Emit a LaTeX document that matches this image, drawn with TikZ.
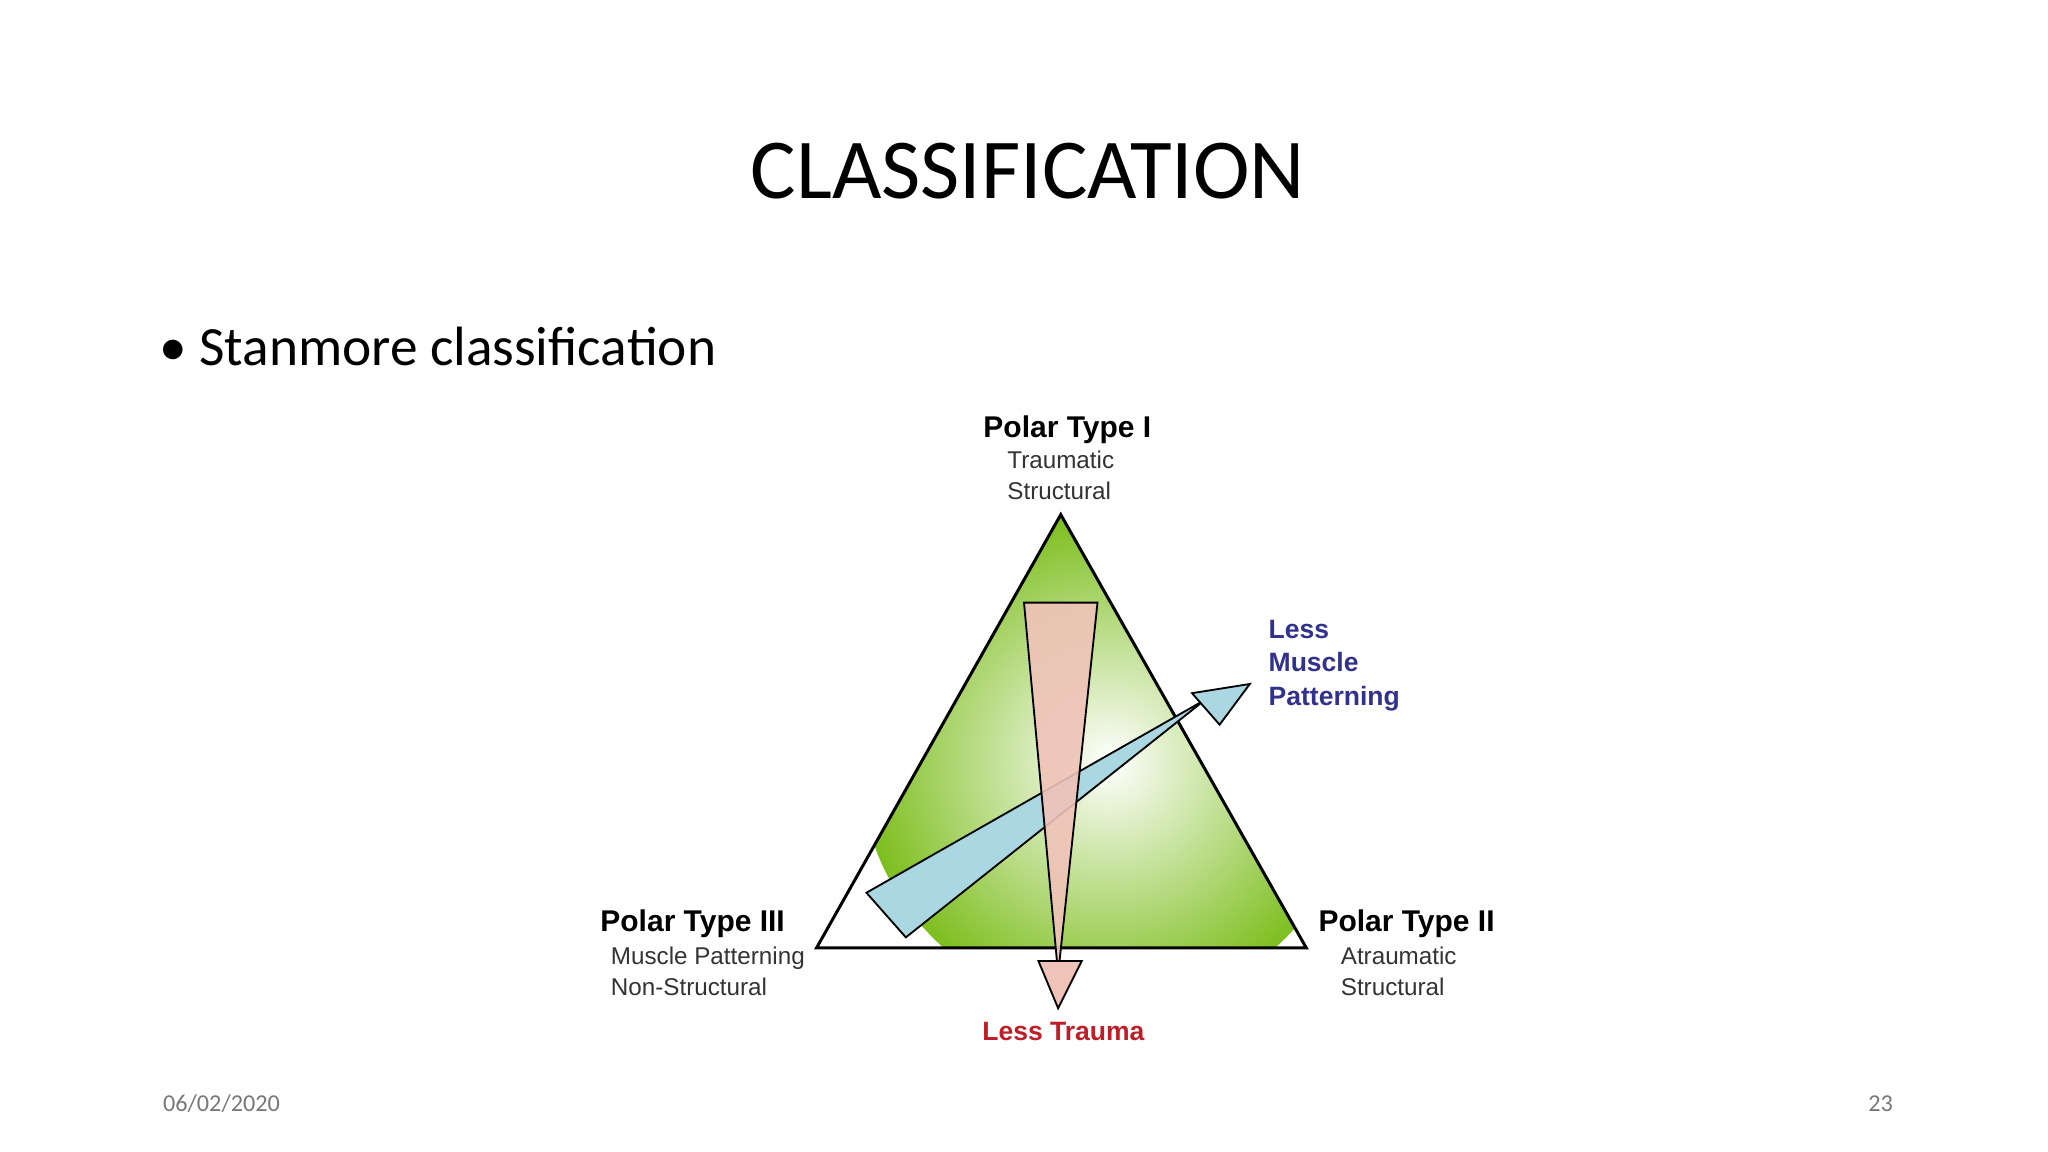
\documentclass[tikz,border=0pt]{standalone}
\usepackage{fontspec}
\setmainfont{Carlito}
\newfontfamily\arial{Liberation Sans}
\definecolor{tgreen}{RGB}{125,190,30}
\definecolor{tpink}{RGB}{240,195,185}
\definecolor{tblue}{RGB}{170,215,225}
\definecolor{lessblue}{RGB}{50,50,140}
\definecolor{lessred}{RGB}{190,30,40}
\definecolor{foot}{RGB}{120,120,120}
\begin{document}
\begin{tikzpicture}[x=0.02cm,y=-0.02cm,
  hd/.style={font=\arial\bfseries\fontsize{13}{15}\selectfont,inner sep=0},
  sm/.style={font=\arial\fontsize{10.5}{13.5}\selectfont,inner sep=0,align=left,text=black!80},
  lb/.style={font=\arial\bfseries\fontsize{11.5}{14.5}\selectfont,inner sep=0,align=left}]
\useasboundingbox[fill=white] (0,0) rectangle (1560,877.5);
\node (title) at (783,130) {\fontsize{37}{40}\selectfont CLASSIFICATION};
\node[anchor=west] (bul) at (115,264) {\fontsize{24}{28}\selectfont \textbullet\ Stanmore classification};
% triangle
\coordinate (A) at (808,392); \coordinate (L) at (622,722); \coordinate (R) at (995,722);
\begin{scope}
\clip (A)--(L)--(R)--cycle;
\shade[inner color=white,outer color=tgreen] (845,580) circle (190);
\end{scope}
\draw[line width=1.3pt] (A)--(L)--(R)--cycle;
% blue wedge
\draw[fill=tblue,line width=0.8pt] (660,680)--(918,533)--(690,714)--cycle;
\draw[fill=tblue,line width=0.8pt] (908,528)--(952,521)--(929,552)--cycle;
% pink wedge
\draw[fill=tpink,fill opacity=0.9,line width=0.8pt] (780,459)--(836,459)--(806,742)--cycle;
\draw[fill=tpink,line width=0.8pt] (791,732)--(824,732)--(806,768)--cycle;
% labels
\node[hd] (p1) at (813,327) {Polar Type I};
\node[sm,anchor=north west] (p1s) at (767,343) {Traumatic\\Structural};
\node[hd,anchor=west] (p3) at (457,704) {Polar Type III};
\node[sm,anchor=north west] (p3s) at (465,721) {Muscle Patterning\\Non-Structural};
\node[hd,anchor=west] (p2) at (1004,704) {Polar Type II};
\node[sm,anchor=north west] (p2s) at (1021,721) {Atraumatic\\Structural};
\node[lb,text=lessblue,anchor=north west] (lm) at (966,472) {Less\\Muscle\\Patterning};
\node[lb,text=lessred] (lt) at (810,786) {Less Trauma};
\node[anchor=west,text=foot] (date) at (118,841) {\fontsize{10.5}{12}\selectfont 06/02/2020};
\node[anchor=east,text=foot] (pg) at (1448,841) {\fontsize{10.5}{12}\selectfont 23};
\end{tikzpicture}
\end{document}
